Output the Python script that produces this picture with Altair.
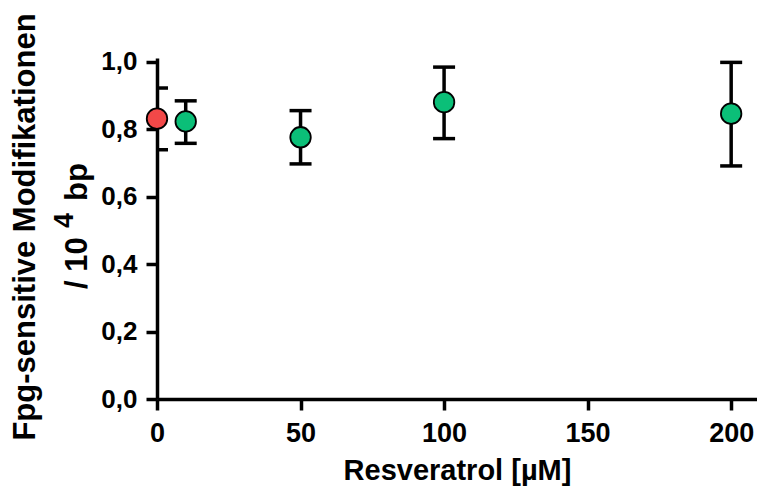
import altair as alt
import pandas as pd

# Resveratrol concentration series (µM) with mean and error-bar limits
conc = [0, 10, 50, 100, 200]
mean = [0.831, 0.823, 0.776, 0.880, 0.846]
lower = [0.739, 0.758, 0.697, 0.772, 0.691]
upper = [0.922, 0.884, 0.855, 0.984, 0.998]
group = ["Kontrolle", "Resveratrol", "Resveratrol", "Resveratrol", "Resveratrol"]

x_ticks = [0, 50, 100, 150, 200]
y_ticks = [0.0, 0.2, 0.4, 0.6, 0.8, 1.0]

df = pd.DataFrame({"conc": conc, "mean": mean, "lo": lower, "hi": upper, "group": group})

FONT = "Liberation Sans"

x = alt.X(
    "conc:Q",
    scale=alt.Scale(domain=[0, 209], nice=False, zero=False),
    axis=alt.Axis(
        values=x_ticks,
        title="Resveratrol [µM]",
        titleFontSize=29,
        titleFontWeight="bold",
        titleFont=FONT,
        titleColor="black",
        titleBaseline="alphabetic",
        titleY=80,
        labelFontSize=27,
        labelFont=FONT,
        labelFontWeight="bold",
        labelColor="black",
        labelPadding=10,
        tickSize=11,
        tickWidth=3.5,
        tickColor="black",
        domainWidth=3.5,
        domainColor="black",
        grid=False,
        labelFlush=False,
    ),
)

y_axis = alt.Axis(
    values=y_ticks,
    title=None,
    labelExpr="replace(format(datum.value, '.1f'), '.', ',')",
    labelFontSize=26,
    labelFont=FONT,
    labelFontWeight="bold",
    labelColor="black",
    labelPadding=9,
    tickSize=11,
    tickWidth=3.5,
    tickColor="black",
    domainWidth=3.5,
    domainColor="black",
    grid=False,
)
y_scale = alt.Scale(domain=[0, 1.011], nice=False)

base = alt.Chart(df)

stems = base.mark_rule(color="black", strokeWidth=3.5, opacity=1, clip=True).encode(
    x=x,
    y=alt.Y("lo:Q", scale=y_scale, axis=y_axis),
    y2="hi:Q",
)

cap_style = dict(color="black", thickness=3.5, size=22, orient="horizontal",
                 opacity=1, clip=True)
caps_hi = base.mark_tick(**cap_style).encode(x="conc:Q", y="hi:Q")
caps_lo = base.mark_tick(**cap_style).encode(x="conc:Q", y="lo:Q")

points = base.mark_point(filled=True, shape="circle", size=420, stroke="black",
                         strokeWidth=1.8, opacity=1).encode(
    x="conc:Q",
    y="mean:Q",
    fill=alt.Fill("group:N",
                  scale=alt.Scale(domain=["Kontrolle", "Resveratrol"],
                                  range=["#f24848", "#0bbf78"]),
                  legend=None),
)

# Two-line rotated y title with a raised exponent
title_style = dict(font=FONT, fontWeight="bold", color="black", angle=270)
t1 = alt.Chart(pd.DataFrame({"t": ["Fpg-sensitive Modifikationen"]})).mark_text(
    fontSize=31, align="center", baseline="alphabetic", **title_style
).encode(text="t:N", x=alt.value(-122), y=alt.value(169))
t2 = alt.Chart(pd.DataFrame({"t": ["/ 10"]})).mark_text(
    fontSize=31, align="left", baseline="alphabetic", **title_style
).encode(text="t:N", x=alt.value(-70), y=alt.value(231))
t3 = alt.Chart(pd.DataFrame({"t": ["4"]})).mark_text(
    fontSize=27, align="left", baseline="alphabetic", **title_style
).encode(text="t:N", x=alt.value(-84), y=alt.value(170))
t4 = alt.Chart(pd.DataFrame({"t": ["bp"]})).mark_text(
    fontSize=31, align="left", baseline="alphabetic", **title_style
).encode(text="t:N", x=alt.value(-70), y=alt.value(143))

chart = alt.layer(stems, caps_hi, caps_lo, points, t1, t2, t3, t4).properties(
    width=600,
    height=341,
    padding={"left": 157, "top": 58, "right": 0, "bottom": 88},
    autosize=alt.AutoSizeParams(type="none"),
    background="white",
).configure_view(strokeWidth=0)

chart.save("out.html", embed_options={"renderer": "svg", "actions": False})
